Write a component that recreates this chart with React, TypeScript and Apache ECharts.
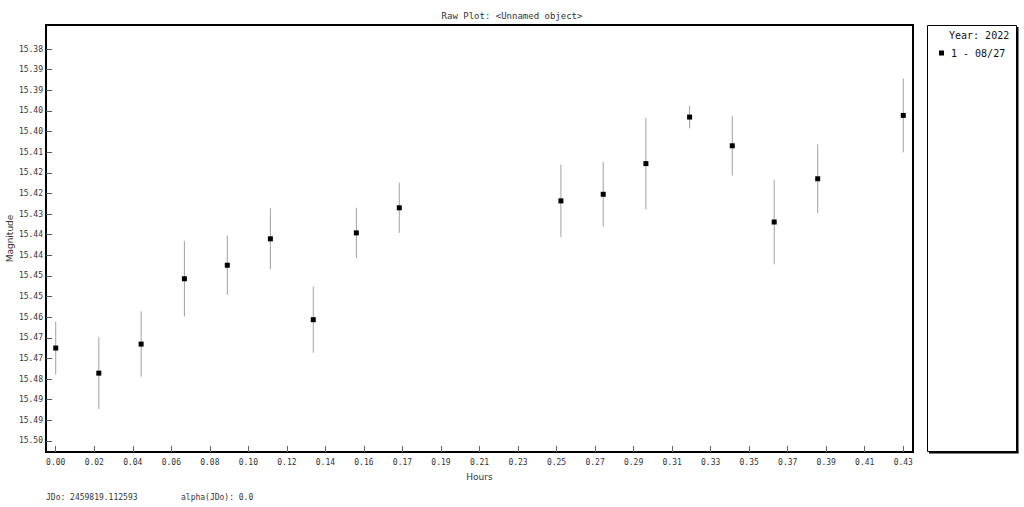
import React, { useEffect, useRef } from "react";
import * as echarts from "echarts";

const hours = [0.0, 0.0217, 0.043, 0.0648, 0.0864, 0.1081, 0.1297, 0.1514, 0.173, 0.2544, 0.2757, 0.2972, 0.3192, 0.3407, 0.3618, 0.3837, 0.4268];
const magnitudes = [15.4696, 15.4772, 15.4684, 15.4486, 15.4445, 15.4365, 15.461, 15.4347, 15.4271, 15.425, 15.423, 15.4137, 15.3996, 15.4083, 15.4314, 15.4183, 15.3991];
const errors = [0.008, 0.0109, 0.0099, 0.0114, 0.009, 0.0092, 0.01, 0.0076, 0.0076, 0.011, 0.0098, 0.0139, 0.0034, 0.009, 0.0128, 0.0104, 0.0112];

const xTicks = [0, 0.0194, 0.0388, 0.0582, 0.0776, 0.097, 0.1164, 0.1358, 0.1552, 0.1746, 0.194, 0.2134, 0.2328, 0.2522, 0.2716, 0.291, 0.3104, 0.3298, 0.3492, 0.3686, 0.388, 0.4074, 0.4268];
const yTicks = [15.379, 15.38525, 15.3915, 15.39775, 15.404, 15.41025, 15.4165, 15.42275, 15.429, 15.43525, 15.4415, 15.44775, 15.454, 15.46025, 15.4665, 15.47275, 15.479, 15.48525, 15.4915, 15.49775];

const seriesName = "1 - 08/27";
const yearLabel = "Year: 2022";
const titleText = "Raw Plot: <Unnamed object>";
const jdoText = "JDo: 2459819.112593";
const alphaText = "alpha(JDo): 0.0";

const MONO = "'DejaVu Sans Mono', 'Liberation Mono', monospace";
const SANS = "'DejaVu Sans', Verdana, sans-serif";

export default function App() {
  const ref = useRef<HTMLDivElement>(null);
  useEffect(() => {
    if (!ref.current) return;
    const chart = echarts.init(ref.current, null, { renderer: "svg" });
    const errData = hours.map((h, i) => [h, magnitudes[i] - errors[i], magnitudes[i] + errors[i]]);
    const ptData = hours.map((h, i) => [h, magnitudes[i]]);
    chart.setOption({
      animation: false,
      backgroundColor: "#fff",
      title: {
        text: titleText,
        left: "center",
        top: 6,
        textStyle: { fontFamily: MONO, fontSize: 9, fontWeight: "normal", color: "#333" },
      },
      grid: {
        left: 46,
        top: 25,
        right: 111,
        bottom: 55,
        containLabel: false,
        outerBoundsMode: "none",
        show: true,
        borderColor: "#000",
        borderWidth: 2,
        backgroundColor: "#fff",
      },
      legend: {
        show: true,
        orient: "vertical",
        left: 934,
        top: 43,
        itemWidth: 5,
        itemHeight: 5,
        itemGap: 4,
        icon: "rect",
        data: [seriesName],
        itemStyle: { opacity: 1 },
        textStyle: { fontFamily: MONO, fontSize: 10, color: "#111", padding: [0, 0, 0, 2] },
      },
      xAxis: {
        type: "value",
        min: -0.0049,
        max: 0.4317,
        name: "Hours",
        nameLocation: "middle",
        nameGap: 20,
        nameMoveOverlap: false,
        nameTextStyle: { fontFamily: SANS, fontSize: 9, color: "#333" },
        axisLine: { show: true, onZero: false, lineStyle: { color: "#000", width: 2 } },
        axisTick: { show: true, inside: true, length: 6, customValues: xTicks, lineStyle: { color: "#666", width: 1 } },
        axisLabel: {
          customValues: xTicks,
          margin: 6,
          fontFamily: MONO,
          fontSize: 8,
          color: "#333",
          formatter: (v: number) => v.toFixed(2),
        },
        splitLine: { show: false },
      },
      yAxis: {
        type: "value",
        inverse: true,
        min: 15.3717,
        max: 15.5011,
        name: "Magnitude",
        nameLocation: "middle",
        nameGap: 32,
        nameMoveOverlap: false,
        nameRotate: 90,
        nameTextStyle: { fontFamily: SANS, fontSize: 9, color: "#333" },
        axisLine: { show: true, onZero: false, lineStyle: { color: "#000", width: 2 } },
        axisTick: { show: true, inside: true, length: 6, customValues: yTicks, lineStyle: { color: "#555", width: 1 } },
        axisLabel: {
          customValues: yTicks,
          margin: 3,
          fontFamily: MONO,
          fontSize: 8,
          color: "#333",
          formatter: (v: number) => v.toFixed(2),
        },
        splitLine: { show: false },
      },
      series: [
        {
          type: "custom",
          name: "errors",
          data: errData,
          encode: { x: 0, y: [1, 2] },
          renderItem: (params: any, api: any) => {
            const x = api.value(0);
            const p1 = api.coord([x, api.value(1)]);
            const p2 = api.coord([x, api.value(2)]);
            return {
              type: "line",
              shape: { x1: p1[0], y1: p1[1], x2: p2[0], y2: p2[1] },
              style: { stroke: "#a0a0a0", lineWidth: 1 },
            };
          },
          silent: true,
          z: 1,
        },
        {
          type: "scatter",
          name: seriesName,
          data: ptData,
          symbol: "rect",
          symbolSize: 5,
          itemStyle: { color: "#000", opacity: 1 },
          z: 2,
        },
      ],
      graphic: [
        {
          type: "rect",
          shape: { x: 927.5, y: 25.5, width: 89, height: 426 },
          style: { fill: "#fff", stroke: "#000", lineWidth: 1 },
          z: -1,
        },
        { type: "line", shape: { x1: 1017.5, y1: 27, x2: 1017.5, y2: 453 }, style: { stroke: "#000", lineWidth: 2 } },
        { type: "line", shape: { x1: 929, y1: 452.5, x2: 1018.5, y2: 452.5 }, style: { stroke: "#000", lineWidth: 2 } },
        {
          type: "text",
          x: 949,
          y: 30,
          style: { text: yearLabel, font: `10px ${MONO}`, fill: "#111" },
        },
        {
          type: "text",
          x: 46,
          y: 493,
          style: { text: jdoText, font: `8px ${MONO}`, fill: "#333" },
        },
        {
          type: "text",
          x: 181,
          y: 493,
          style: { text: alphaText, font: `8px ${MONO}`, fill: "#333" },
        },
      ],
    });
    return () => chart.dispose();
  }, []);
  return <div ref={ref} style={{ position: "absolute", left: 0, top: 0, width: 1024, height: 507 }} />;
}
